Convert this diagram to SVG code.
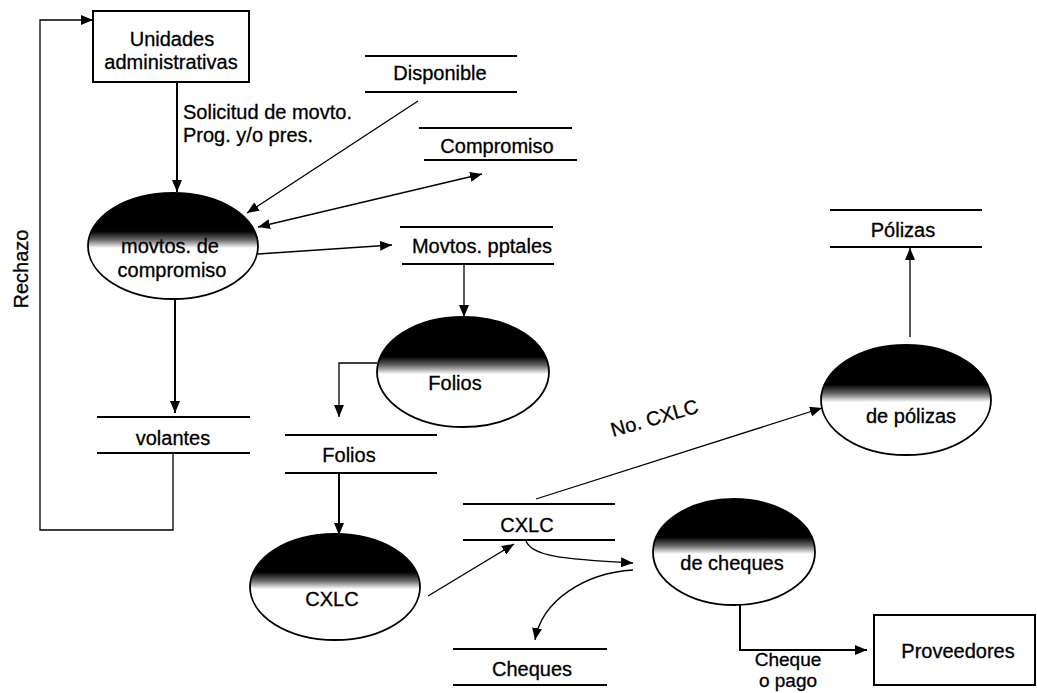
<svg xmlns="http://www.w3.org/2000/svg" width="1037" height="693" viewBox="0 0 1037 693">
  <style>
    text { font-family: "Liberation Sans", Arial, sans-serif; font-size: 20px; fill: #000; stroke: #000; stroke-width: 0.3; }
    .c { text-anchor: middle; }
    .small { font-size: 19px; }
    .flow { fill: none; stroke: #000; stroke-width: 2; }
    .thin { fill: none; stroke: #000; stroke-width: 1.3; }
    .store line { stroke: #000; stroke-width: 1.8; }
    .ent rect { fill: #fff; stroke: #000; stroke-width: 2; }
    .proc ellipse { fill: url(#shade); stroke: #000; stroke-width: 1.8; }
  </style>
  <defs>
    <!-- process bubble fill: dark cap fading to white -->
    <linearGradient id="shade" x1="0" y1="0" x2="0" y2="1">
      <stop offset="0" stop-color="#000"/>
      <stop offset="0.36" stop-color="#000"/>
      <stop offset="0.44" stop-color="#666"/>
      <stop offset="0.52" stop-color="#fff"/>
      <stop offset="1" stop-color="#fff"/>
    </linearGradient>
    <marker id="arr" viewBox="0 0 12 10" refX="12" refY="5" markerWidth="12" markerHeight="10" markerUnits="userSpaceOnUse" orient="auto-start-reverse">
      <path d="M0,0 L12,5 L0,10 z" fill="#000"/>
    </marker>
  </defs>

  <rect width="1037" height="693" fill="#fff"/>

  <!-- external entities -->
  <g id="unidades" class="ent">
    <rect x="93" y="11" width="156" height="71"/>
    <text class="c" x="172" y="46">Unidades</text>
    <text class="c" x="171" y="69">administrativas</text>
  </g>
  <g id="proveedores" class="ent">
    <rect x="874" y="615" width="161" height="70"/>
    <text class="c" x="958" y="658">Proveedores</text>
  </g>

  <!-- data stores -->
  <g id="disponible" class="store">
    <line x1="365" y1="56" x2="517" y2="56"/>
    <line x1="365" y1="92" x2="517" y2="92"/>
    <text class="c" x="440" y="80">Disponible</text>
  </g>
  <g id="compromiso" class="store">
    <line x1="419" y1="128" x2="572" y2="128"/>
    <line x1="424" y1="160" x2="577" y2="160"/>
    <text class="c" x="497" y="153">Compromiso</text>
  </g>
  <g id="movtos-pptales" class="store">
    <line x1="400" y1="227" x2="553" y2="227"/>
    <line x1="402" y1="264" x2="554" y2="264"/>
    <text class="c" x="482" y="253">Movtos. pptales</text>
  </g>
  <g id="volantes" class="store">
    <line x1="97" y1="417" x2="250" y2="417"/>
    <line x1="97" y1="453" x2="250" y2="453"/>
    <text class="c" x="173" y="445">volantes</text>
  </g>
  <g id="folios" class="store">
    <line x1="285" y1="435" x2="437" y2="435"/>
    <line x1="285" y1="473" x2="437" y2="473"/>
    <text class="c" x="349" y="462">Folios</text>
  </g>
  <g id="cxlc" class="store">
    <line x1="463" y1="504" x2="615" y2="504"/>
    <line x1="463" y1="540" x2="615" y2="540"/>
    <text class="c" x="527" y="532">CXLC</text>
  </g>
  <g id="cheques" class="store">
    <line x1="453" y1="649" x2="607" y2="649"/>
    <line x1="453" y1="685" x2="607" y2="685"/>
    <text class="c" x="532" y="676">Cheques</text>
  </g>
  <g id="polizas" class="store">
    <line x1="830" y1="210" x2="982" y2="210"/>
    <line x1="830" y1="247" x2="982" y2="247"/>
    <text class="c" x="903" y="237">Pólizas</text>
  </g>

  <!-- processes -->
  <g id="p-compromiso" class="proc">
    <ellipse cx="173" cy="246" rx="85" ry="53"/>
    <text class="c" x="170" y="253">movtos. de</text>
    <text class="c" x="172" y="277">compromiso</text>
  </g>
  <g id="p-folios" class="proc">
    <ellipse cx="463" cy="372" rx="86" ry="55"/>
    <text class="c" x="455" y="390">Folios</text>
  </g>
  <g id="p-cxlc" class="proc">
    <ellipse cx="335" cy="587" rx="85" ry="53"/>
    <text class="c" x="332" y="606">CXLC</text>
  </g>
  <g id="p-cheques" class="proc">
    <ellipse cx="734" cy="552" rx="81" ry="53"/>
    <text class="c" x="732" y="570">de cheques</text>
  </g>
  <g id="p-polizas" class="proc">
    <ellipse cx="906" cy="400" rx="85" ry="55"/>
    <text class="c" x="911" y="423">de pólizas</text>
  </g>

  <!-- flows -->
  <g id="connectors">
    <line class="flow" x1="177" y1="82" x2="177" y2="192" marker-end="url(#arr)"/>
    <line class="thin" x1="418" y1="101" x2="247" y2="213" marker-end="url(#arr)"/>
    <line class="thin" x1="258" y1="227" x2="482" y2="174" marker-start="url(#arr)" marker-end="url(#arr)"/>
    <line class="thin" x1="258" y1="254" x2="392" y2="245" marker-end="url(#arr)"/>
    <line class="thin" x1="464" y1="264" x2="464" y2="317" marker-end="url(#arr)"/>
    <polyline class="thin" points="377,363 339,363 339,417" marker-end="url(#arr)"/>
    <line class="flow" x1="175" y1="299" x2="175" y2="413" marker-end="url(#arr)"/>
    <polyline class="thin" points="173,453 173,530 40,530 40,20 93,20" marker-end="url(#arr)"/>
    <line class="flow" x1="339" y1="473" x2="339" y2="535" marker-end="url(#arr)"/>
    <line class="thin" x1="428" y1="596" x2="514" y2="544" marker-end="url(#arr)"/>
    <line class="thin" x1="536" y1="499" x2="822" y2="408" marker-end="url(#arr)"/>
    <path class="thin" d="M526,541 C532,556 560,559 633,563" marker-end="url(#arr)"/>
    <path class="thin" d="M633,570 C585,573 542,600 535,640" marker-end="url(#arr)"/>
    <line class="thin" x1="910" y1="337" x2="910" y2="248" marker-end="url(#arr)"/>
    <polyline class="flow" points="740,605 740,650 867,650" marker-end="url(#arr)"/>
  </g>

  <!-- flow labels -->
  <g id="labels">
    <text x="183" y="119">Solicitud de movto.</text>
    <text x="183" y="142">Prog. y/o pres.</text>
    <text class="c" transform="translate(28,269) rotate(-90)">Rechazo</text>
    <text transform="translate(613,437) rotate(-16)">No. CXLC</text>
    <text class="c small" x="788" y="666">Cheque</text>
    <text class="c small" x="788" y="687">o pago</text>
  </g>
</svg>
